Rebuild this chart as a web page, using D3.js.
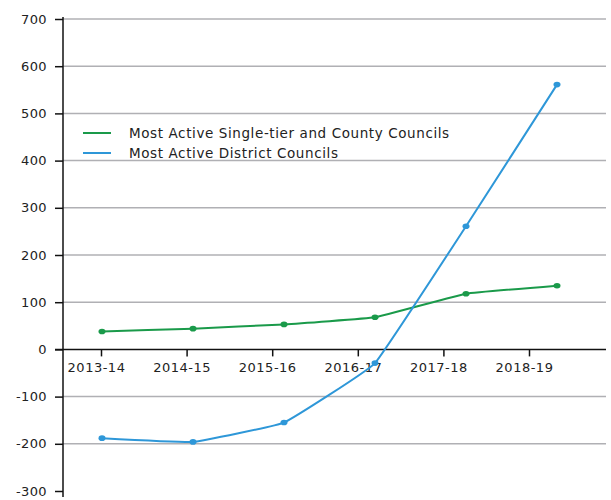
<!DOCTYPE html>
<html>
<head>
<meta charset="utf-8">
<script src="https://cdn.jsdelivr.net/npm/d3@7"></script>
<style>
  body { margin: 0; background: #fff; }
  text { font-family: "DejaVu Sans", sans-serif; fill: #222; }
</style>
</head>
<body>
<div id="chart"></div>
<script>
// data
const years = ["2013-14", "2014-15", "2015-16", "2016-17", "2017-18", "2018-19"];
const singleTier = [38, 44, 53, 68, 118, 135];
const district = [-188, -196, -155, -29, 261, 561];
const yTicks = [700, 600, 500, 400, 300, 200, 100, 0, -100, -200, -300];
const seriesNames = ["Most Active Single-tier and County Councils", "Most Active District Councils"];
const colors = ["#1a9a4a", "#2e97d8"];

const width = 611, height = 500;

const svg = d3.select("#chart")
    .append("svg")
    .attr("width", width)
    .attr("height", height);

// scales
const y = d3.scaleLinear().domain([-300, 700]).range([491, 19]);
// tick positions on the axis and point positions don't line up exactly in the original
const xAxisScale = d3.scalePoint().domain(years).range([101, 529]);
const x = d3.scalePoint().domain(years).range([102, 557]);

const left = 63, right = 606;

// gridlines
svg.append("g")
    .selectAll("line")
    .data(yTicks.filter(d => d > -300 && d !== 0))
    .enter().append("line")
    .attr("x1", left).attr("x2", right)
    .attr("y1", d => y(d)).attr("y2", d => y(d))
    .attr("stroke", "#b0b0b4")
    .attr("stroke-width", 1.5);

// y axis
const yAxis = svg.append("g")
    .attr("transform", `translate(${left},0)`)
    .call(d3.axisLeft(y).tickValues(yTicks).tickFormat(d => String(d)).tickSize(8).tickPadding(8));
yAxis.select(".domain").remove();
yAxis.selectAll(".tick line").attr("stroke", "#111").attr("stroke-width", 1.5);
yAxis.selectAll(".tick text").style("font-size", "13px").style("letter-spacing", "0.4px").attr("fill", "#222");
yAxis.append("line")
    .attr("x1", 0).attr("x2", 0)
    .attr("y1", 17).attr("y2", 497)
    .attr("stroke", "#111").attr("stroke-width", 1.5);

// x axis at zero
const xAxis = svg.append("g")
    .attr("transform", `translate(0,${y(0)})`)
    .call(d3.axisBottom(xAxisScale).tickSize(7).tickPadding(6));
xAxis.select(".domain").remove();
xAxis.selectAll(".tick line").attr("stroke", "#111").attr("stroke-width", 1.5);
xAxis.selectAll(".tick text").style("font-size", "13px").style("letter-spacing", "0.5px")
    .attr("fill", "#222").attr("dx", "-5");
xAxis.append("line")
    .attr("x1", 55).attr("x2", right)
    .attr("stroke", "#111").attr("stroke-width", 1.5);

// lines, lightly smoothed
const series = [singleTier, district];
const line = d3.line()
    .x((d, i) => x(years[i]))
    .y(d => y(d))
    .curve(d3.curveCardinal.tension(0.75));

series.forEach((vals, si) => {
    svg.append("path")
        .datum(vals)
        .attr("d", line)
        .attr("fill", "none")
        .attr("stroke", colors[si])
        .attr("stroke-width", 2);

    svg.append("g")
        .selectAll("ellipse")
        .data(vals)
        .enter().append("ellipse")
        .attr("cx", (d, i) => x(years[i]))
        .attr("cy", d => y(d))
        .attr("rx", 3.5)
        .attr("ry", 2.8)
        .attr("fill", colors[si]);
});

// legend
const legend = svg.append("g");
seriesNames.forEach((name, i) => {
    const ly = 133 + i * 20;
    legend.append("line")
        .attr("x1", 83).attr("x2", 111)
        .attr("y1", ly).attr("y2", ly)
        .attr("stroke", colors[i])
        .attr("stroke-width", 2);
    legend.append("text")
        .attr("x", 129)
        .attr("y", ly)
        .attr("dy", "0.35em")
        .style("font-size", "13.5px")
        .style("letter-spacing", "0.6px")
        .text(name);
});
</script>
</body>
</html>
